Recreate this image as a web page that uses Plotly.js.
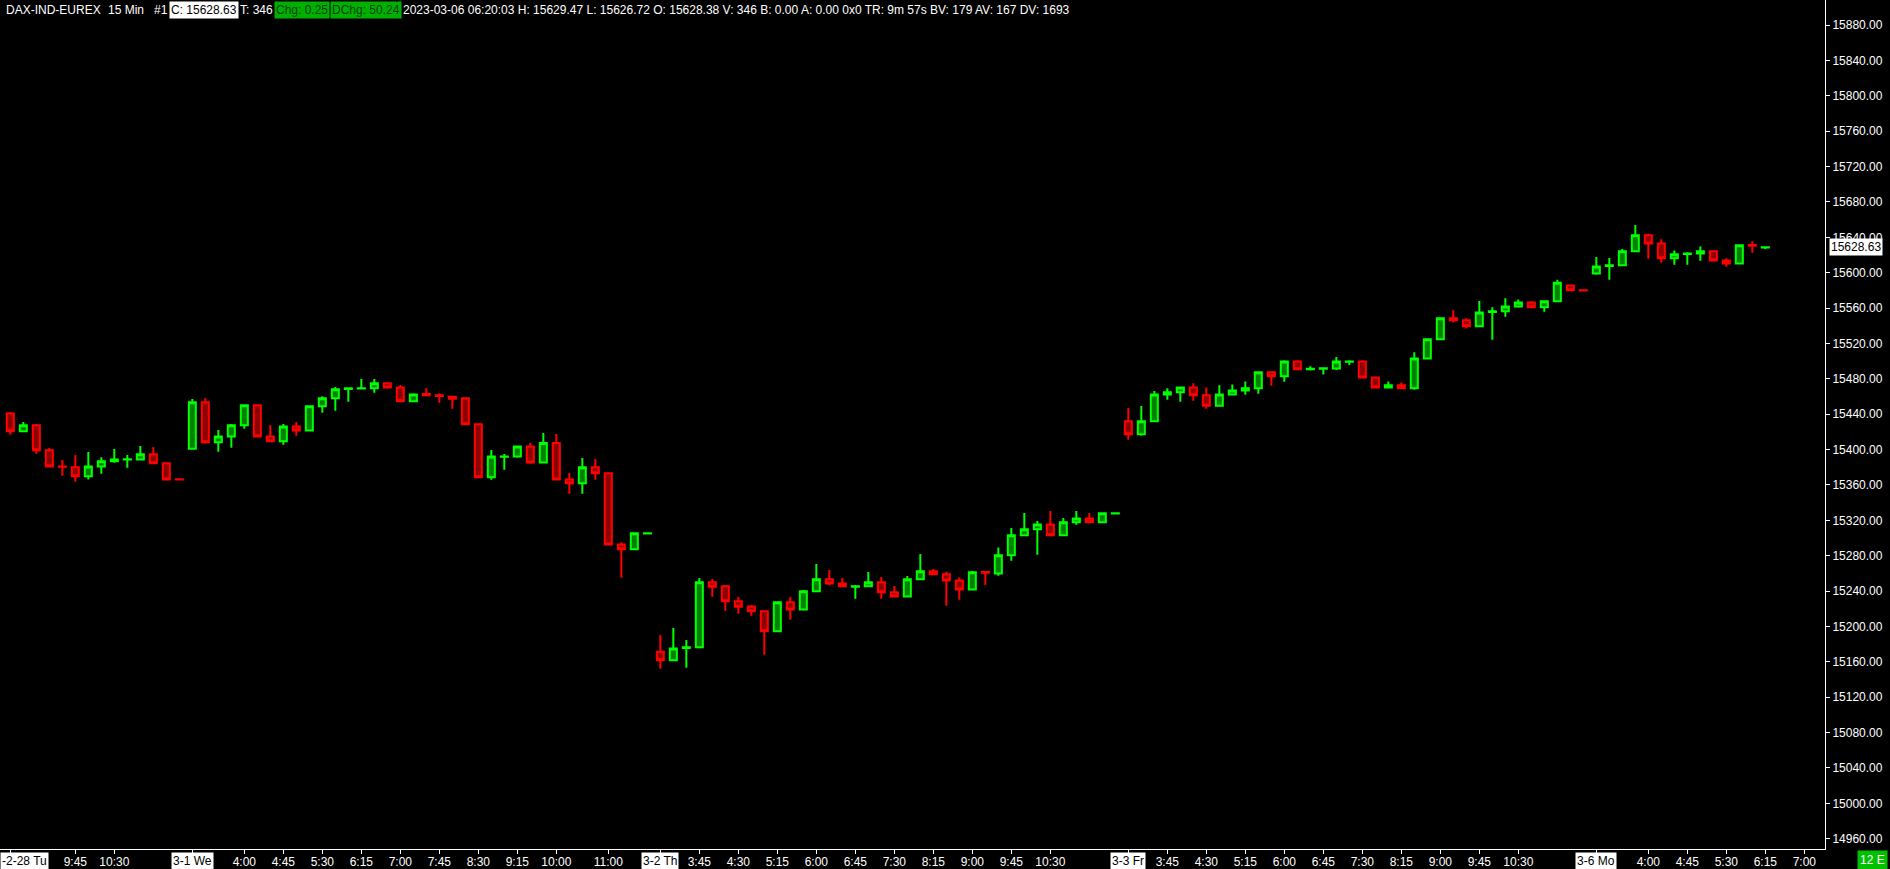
<!DOCTYPE html>
<html>
<head>
<meta charset="utf-8">
<script src="https://cdn.plot.ly/plotly-3.0.1.min.js"></script>
<style>
html,body{margin:0;padding:0;background:#000;overflow:hidden;}
#chart{width:1890px;height:869px;}
</style>
</head>
<body>
<div id="chart"></div>
<script>
// ---- DATA (15-min bars, DAX-IND-EUREX) ----
var openP = [
15440.9,15420.6,15427.4,15399.1,15381.0,15379.9,15369.7,15381.0,15386.7,15388.7,15388.9,15394.6,15384.5,15366.4,
15401.0,15453.4,15408.2,15414.9,15427.4,15450.0,15414.9,15409.3,15426.2,15421.7,15448.9,15457.9,15468.5,15469.0,
15469.2,15474.9,15470.3,15454.5,15462.8,15461.3,15459.8,15457.9,15428.5,15368.6,15392.0,15392.3,15403.6,15385.5,
15407.4,15366.3,15361.8,15379.9,15373.1,15292.8,15287.2,15305.2,
15171.5,15161.7,15175.6,15176.4,15249.9,15245.4,15228.4,15222.7,15217.1,15194.5,15227.3,15219.3,15239.7,15253.3,
15248.7,15245.0,15245.4,15249.9,15238.6,15234.0,15253.3,15262.3,15258.9,15252.1,15241.9,15261.5,15260.0,15280.4,
15303.0,15309.8,15315.4,15303.0,15317.7,15322.2,15317.7,15327.8,
15431.9,15417.2,15431.9,15462.4,15464.7,15470.3,15461.3,15449.6,15462.4,15466.9,15469.2,15487.3,15482.8,15499.7,
15490.7,15491.4,15491.8,15499.4,15499.7,15481.6,15470.3,15472.6,15469.2,15503.1,15524.6,15548.4,15546.1,15539.3,
15555.5,15556.3,15561.9,15566.4,15560.8,15567.6,15585.5,15580.1,
15599.2,15607.5,15608.3,15624.1,15642.2,15633.1,15616.2,15621.1,15621.8,15624.1,15613.9,15610.5,15631.3,15628.38
];
var highP = [
15442.5,15431.1,15428.9,15401.7,15388.2,15393.8,15397.2,15391.2,15400.6,15393.8,15404.0,15402.9,15384.5,15366.4,
15457.1,15458.3,15422.1,15428.9,15450.0,15450.0,15427.4,15428.9,15431.1,15448.9,15460.2,15470.7,15470.3,15479.8,
15479.8,15476.0,15473.0,15463.6,15469.2,15463.6,15460.5,15459.0,15428.5,15399.5,15395.0,15403.6,15407.4,15418.7,
15417.6,15373.5,15390.4,15389.3,15373.1,15295.1,15305.3,15305.4,
15190.3,15198.2,15184.7,15254.8,15253.6,15246.9,15233.3,15224.2,15217.1,15227.3,15233.3,15241.2,15270.6,15263.8,
15254.8,15246.9,15261.5,15255.9,15245.7,15257.0,15281.9,15264.9,15261.5,15255.5,15262.7,15262.7,15289.4,15311.3,
15328.2,15319.2,15330.5,15322.6,15330.5,15328.2,15327.9,15328.0,
15447.0,15449.2,15466.2,15469.2,15470.3,15474.9,15470.3,15472.6,15473.7,15477.1,15488.4,15488.4,15500.9,15500.9,
15494.1,15492.9,15504.6,15500.9,15500.9,15481.6,15477.1,15476.0,15509.9,15524.6,15549.5,15557.8,15548.4,15567.9,
15560.8,15571.0,15569.8,15567.6,15567.6,15592.0,15586.5,15580.1,
15617.7,15616.6,15626.7,15653.9,15644.4,15637.7,15625.2,15623.0,15629.7,15625.2,15616.2,15632.0,15635.4,15629.47
];
var lowP = [
15416.8,15420.6,15395.3,15381.0,15370.5,15363.7,15366.3,15372.7,15385.2,15379.5,15388.9,15384.5,15366.3,15366.2,
15401.0,15406.6,15397.6,15402.1,15423.6,15414.9,15408.2,15405.5,15415.7,15421.7,15441.7,15443.9,15454.1,15469.0,
15464.3,15470.3,15454.5,15454.5,15461.3,15453.0,15446.2,15428.5,15368.6,15365.9,15377.3,15390.8,15384.0,15385.5,
15366.3,15350.1,15350.1,15365.9,15291.7,15255.1,15287.2,15305.2,
15152.2,15161.7,15153.4,15176.4,15233.7,15217.8,15214.4,15212.2,15168.1,15194.5,15207.6,15219.3,15239.7,15246.9,
15245.4,15231.4,15245.4,15231.4,15234.0,15234.0,15253.3,15258.9,15223.5,15230.3,15241.9,15246.9,15257.4,15274.4,
15303.0,15281.2,15303.0,15303.0,15315.1,15317.7,15317.7,15327.8,
15411.2,15415.7,15431.9,15456.4,15454.1,15455.2,15446.2,15449.6,15462.4,15462.0,15463.2,15472.2,15476.7,15490.7,
15489.5,15485.0,15489.9,15495.6,15481.6,15470.3,15470.3,15469.2,15467.7,15502.0,15524.6,15543.8,15537.0,15539.3,
15524.2,15550.2,15560.4,15560.8,15555.9,15567.6,15580.0,15579.9,
15597.7,15592.1,15608.3,15624.1,15615.8,15611.3,15609.0,15609.0,15613.5,15613.9,15606.8,15610.5,15622.6,15626.72
];
var closeP = [
15420.6,15427.4,15399.1,15381.0,15380.5,15369.7,15381.0,15386.7,15388.9,15389.0,15394.6,15384.5,15366.3,15366.2,
15453.4,15408.2,15414.9,15427.4,15450.0,15414.9,15409.3,15426.2,15421.7,15448.9,15457.9,15468.1,15469.2,15469.2,
15474.9,15470.3,15454.5,15462.4,15461.3,15460.5,15457.5,15428.5,15368.6,15392.3,15392.3,15403.6,15385.5,15407.4,
15366.3,15361.8,15379.9,15373.1,15292.8,15287.2,15305.3,15305.4,
15161.7,15175.2,15176.4,15249.9,15245.0,15228.4,15222.4,15217.1,15194.5,15227.3,15219.3,15239.7,15253.3,15248.7,
15245.4,15245.4,15249.9,15238.6,15234.0,15253.3,15262.3,15258.9,15252.1,15241.9,15261.2,15260.8,15280.4,15303.0,
15309.8,15315.4,15303.0,15317.7,15322.2,15317.7,15327.9,15328.0,
15417.2,15431.9,15462.4,15464.7,15470.3,15461.3,15449.6,15462.4,15466.9,15469.2,15487.3,15482.8,15499.7,15490.7,
15491.4,15492.0,15499.7,15499.7,15481.6,15470.3,15472.6,15469.2,15503.1,15524.6,15548.4,15546.1,15539.3,15555.1,
15556.3,15561.9,15566.4,15560.8,15567.6,15588.5,15580.0,15579.9,
15607.1,15608.3,15624.1,15642.2,15633.1,15616.2,15620.7,15621.8,15624.1,15613.9,15610.5,15630.9,15630.5,15628.63
];

// x-axis ticks (bar index) and labels
var tickIdx  = [0,5,8,14,18,21,24,27,30,33,36,39,42,46,50,53,56,59,62,65,68,71,74,77,80,
                86,89,92,95,98,101,104,107,110,113,116,122,126,129,132,135,138];
var tickText = ['','9:45','10:30','','4:00','4:45','5:30','6:15','7:00','7:45','8:30','9:15','10:00','11:00',
                '','3:45','4:30','5:15','6:00','6:45','7:30','8:15','9:00','9:45','10:30',
                '','3:45','4:30','5:15','6:00','6:45','7:30','8:15','9:00','9:45','10:30',
                '','4:00','4:45','5:30','6:15','7:00'];
var dateIdx  = [0,14,50,86,122];
var dateText = ['-2-28 Tu','3-1 We','3-2 Th','3-3 Fr','3-6 Mo'];

var lastPrice = 15628.63;
var headerText = '2023-03-06 06:20:03 H: 15629.47 L: 15626.72 O: 15628.38 V: 346 B: 0.00 A: 0.00 0x0 TR: 9m 57s BV: 179 AV: 167 DV: 1693';

// ---- LAYOUT GEOMETRY ----
var W = 1890, H = 869;
var plotR = 1825, plotB = 849;
var FONT = 'Liberation Sans, Arial, sans-serif';
function px(x){ return x / plotR; }
function py(y){ return 1 - y / plotB; }

var barIdx = openP.map(function(_, i){ return i; });

var trace = {
  type: 'candlestick',
  x: barIdx, open: openP, high: highP, low: lowP, close: closeP,
  increasing: {line: {color: '#00ff00', width: 2}, fillcolor: '#008000'},
  decreasing: {line: {color: '#ff0000', width: 2}, fillcolor: '#8b0000'},
  whiskerwidth: 0,
  hoverinfo: 'skip'
};

var ann = [];
function hdr(text, x, opts){
  var a = {text: text, xref: 'paper', yref: 'paper', x: px(x), y: py(10), xanchor: 'left', yanchor: 'middle',
           showarrow: false, font: {family: FONT, size: 12, color: '#ffffff'}, borderpad: 1};
  if (opts) for (var k in opts) a[k] = opts[k];
  ann.push(a);
}
hdr('DAX-IND-EUREX', 3.8);
hdr('15 Min', 105.5);
hdr('#1', 151.7);
hdr('C: 15628.63', 168.7, {bgcolor: '#ffffff', font: {family: FONT, size: 12, color: '#000000'}});
hdr('T: 346', 238);
hdr('Chg: 0.25', 274.4, {bgcolor: '#00b000', font: {family: FONT, size: 12, color: '#0b3d0b'}});
hdr('DChg: 50.24', 330.2, {bgcolor: '#00b000', font: {family: FONT, size: 12, color: '#0b3d0b'}});
hdr(headerText, 400.8);

// date labels on the x axis
dateIdx.forEach(function(d, i){
  var a = {text: dateText[i], xref: 'x', yref: 'paper', x: d, y: py(860.5), xanchor: 'center', yanchor: 'middle',
           showarrow: false, bgcolor: '#ffffff', borderpad: 1, font: {family: FONT, size: 12, color: '#000000'}};
  if (i === 0) { a.xref = 'paper'; a.x = 0; a.xanchor = 'left'; }
  ann.push(a);
});

// last price box on the y axis
ann.push({text: lastPrice.toFixed(2), xref: 'paper', yref: 'y', x: px(1828.7), y: lastPrice, xanchor: 'left', yanchor: 'middle',
          showarrow: false, bgcolor: '#ffffff', borderpad: 1, font: {family: FONT, size: 12, color: '#000000'}});
// bottom-right marker
ann.push({text: '12 E', xref: 'paper', yref: 'paper', x: px(1872.5), y: py(860.2), xanchor: 'center', yanchor: 'middle',
          showarrow: false, bgcolor: '#00c000', borderpad: 2, font: {family: FONT, size: 12, color: '#ffffff'}});

var layout = {
  width: W, height: H,
  paper_bgcolor: '#000000', plot_bgcolor: '#000000',
  margin: {l: 0, r: W - plotR, t: 0, b: H - plotB, autoexpand: false},
  showlegend: false,
  hovermode: false,
  boxgap: 0.46, boxgroupgap: 0,
  xaxis: {
    range: [-0.795, 139.59], fixedrange: true,
    rangeslider: {visible: false},
    showgrid: false, zeroline: false,
    showline: true, linecolor: '#ffffff', linewidth: 1,
    ticks: 'outside', ticklen: 4, tickwidth: 1, tickcolor: '#ffffff',
    ticklabelstandoff: -2,
    tickmode: 'array', tickvals: tickIdx, ticktext: tickText,
    tickfont: {family: FONT, size: 12, color: '#ffffff'}
  },
  yaxis: {
    side: 'right', range: [14948.4, 15908.3], fixedrange: true,
    showgrid: false, zeroline: false,
    showline: true, linecolor: '#ffffff', linewidth: 1,
    ticks: 'outside', ticklen: 4, tickwidth: 1, tickcolor: '#ffffff',
    tick0: 14960, dtick: 40, tickformat: '.2f',
    tickfont: {family: FONT, size: 12, color: '#ffffff'}
  },
  annotations: ann
};

Plotly.newPlot('chart', [trace], layout, {staticPlot: true, displayModeBar: false});
</script>
</body>
</html>
